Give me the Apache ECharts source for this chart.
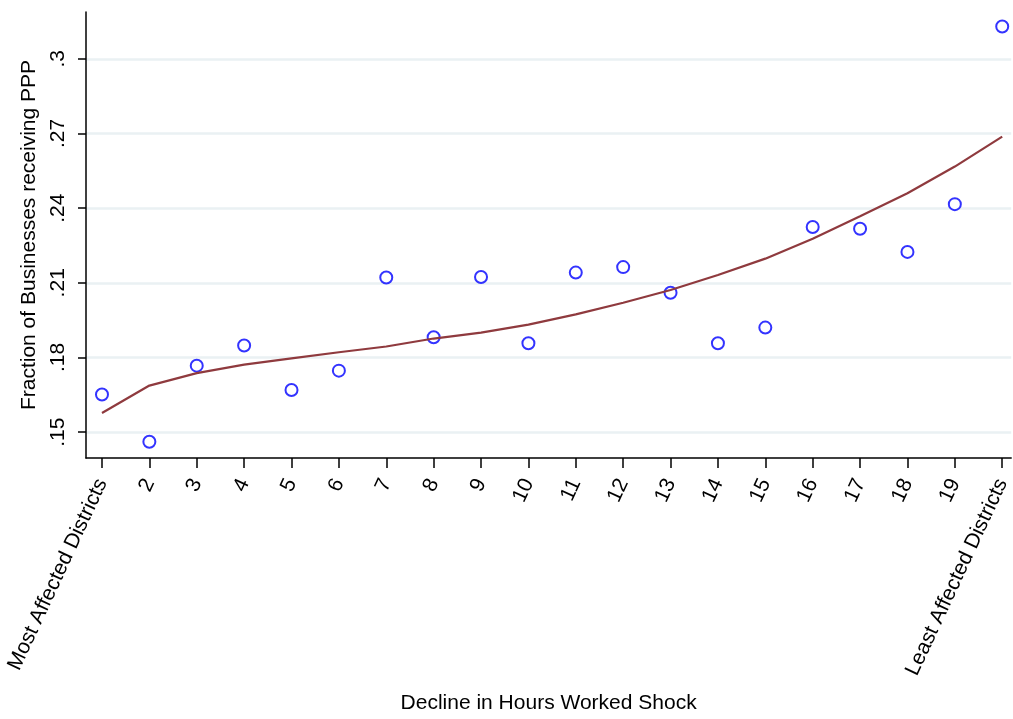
<!DOCTYPE html>
<html>
<head>
<meta charset="utf-8">
<script src="https://cdn.jsdelivr.net/npm/echarts@6/dist/echarts.min.js"></script>
<style>
  html, body { margin: 0; padding: 0; background: #fff; }
  #chart { width: 1013px; height: 719px; }
</style>
</head>
<body>
<div id="chart"></div>
<script>
// Vingtile bins of the hours-worked shock (1 = most affected, 20 = least affected)
const bins = [1, 2, 3, 4, 5, 6, 7, 8, 9, 10, 11, 12, 13, 14, 15, 16, 17, 18, 19, 20];
const binLabels = ['Most Affected Districts', '2', '3', '4', '5', '6', '7', '8', '9', '10',
  '11', '12', '13', '14', '15', '16', '17', '18', '19', 'Least Affected Districts'];

// Mean share of businesses receiving PPP in each bin
const pppShare = [0.1651, 0.1461, 0.1767, 0.1848, 0.1669, 0.1747, 0.2121, 0.1881, 0.2123, 0.1857,
  0.2141, 0.2163, 0.2060, 0.1857, 0.1920, 0.2324, 0.2317, 0.2224, 0.2416, 0.3130];

// Fitted curve evaluated at each bin
const fittedShare = [0.1577, 0.1687, 0.1737, 0.1771, 0.1796, 0.1821, 0.1844, 0.1876, 0.1900, 0.1932,
  0.1973, 0.2020, 0.2071, 0.2131, 0.2197, 0.2277, 0.2367, 0.2460, 0.2567, 0.2687];

const yTicks = [0.15, 0.18, 0.21, 0.24, 0.27, 0.30];

const FONT = 'Liberation Sans, Arial, sans-serif';

const chart = echarts.init(document.getElementById('chart'), null, { renderer: 'canvas' });

chart.setOption({
  animation: false,
  backgroundColor: '#ffffff',
  grid: { left: 86, right: 1, top: 12, bottom: 257, containLabel: false },
  xAxis: {
    type: 'value',
    min: 0.6626,
    max: 20.19,
    name: 'Decline in Hours Worked Shock',
    nameLocation: 'middle',
    nameGap: 235,
    nameTextStyle: { fontFamily: FONT, fontSize: 21, color: '#000' },
    axisLine: { show: true, onZero: false, lineStyle: { color: '#000', width: 1.5 } },
    axisTick: { show: true, length: 10, customValues: bins, lineStyle: { color: '#000', width: 1.5 } },
    axisLabel: {
      customValues: bins,
      rotate: 65,
      margin: 22,
      fontFamily: FONT,
      fontSize: 21,
      color: '#000',
      formatter: v => binLabels[Math.round(v) - 1]
    },
    splitLine: { show: false }
  },
  yAxis: {
    type: 'value',
    min: 0.1396,
    max: 0.3188,
    name: 'Fraction of Businesses receiving PPP',
    nameLocation: 'middle',
    nameGap: 42,
    nameRotate: 90,
    nameTextStyle: { fontFamily: FONT, fontSize: 21, color: '#000' },
    axisLine: { show: true, onZero: false, lineStyle: { color: '#000', width: 1.5 } },
    axisTick: { show: true, length: 8, customValues: yTicks, lineStyle: { color: '#000', width: 1.5 } },
    axisLabel: {
      customValues: yTicks,
      rotate: 90,
      margin: 17,
      fontFamily: FONT,
      fontSize: 21,
      color: '#000',
      formatter: v => v.toFixed(2).replace(/^0/, '').replace(/0$/, '')
    },
    splitLine: { show: true, lineStyle: { color: '#eaf1f3', width: 2.5 } }
  },
  series: [
    {
      type: 'scatter',
      data: bins.map((b, i) => [b, pppShare[i]]),
      symbol: 'emptyCircle',
      symbolSize: 12,
      itemStyle: { color: '#0000ff', borderColor: '#0000ff', borderWidth: 2.6 },
      z: 3
    },
    {
      type: 'line',
      data: bins.map((b, i) => [b, fittedShare[i]]),
      showSymbol: false,
      symbol: 'none',
      smooth: false,
      lineStyle: { color: '#8f3a3e', width: 2.2 },
      z: 4
    }
  ]
});
</script>
</body>
</html>
